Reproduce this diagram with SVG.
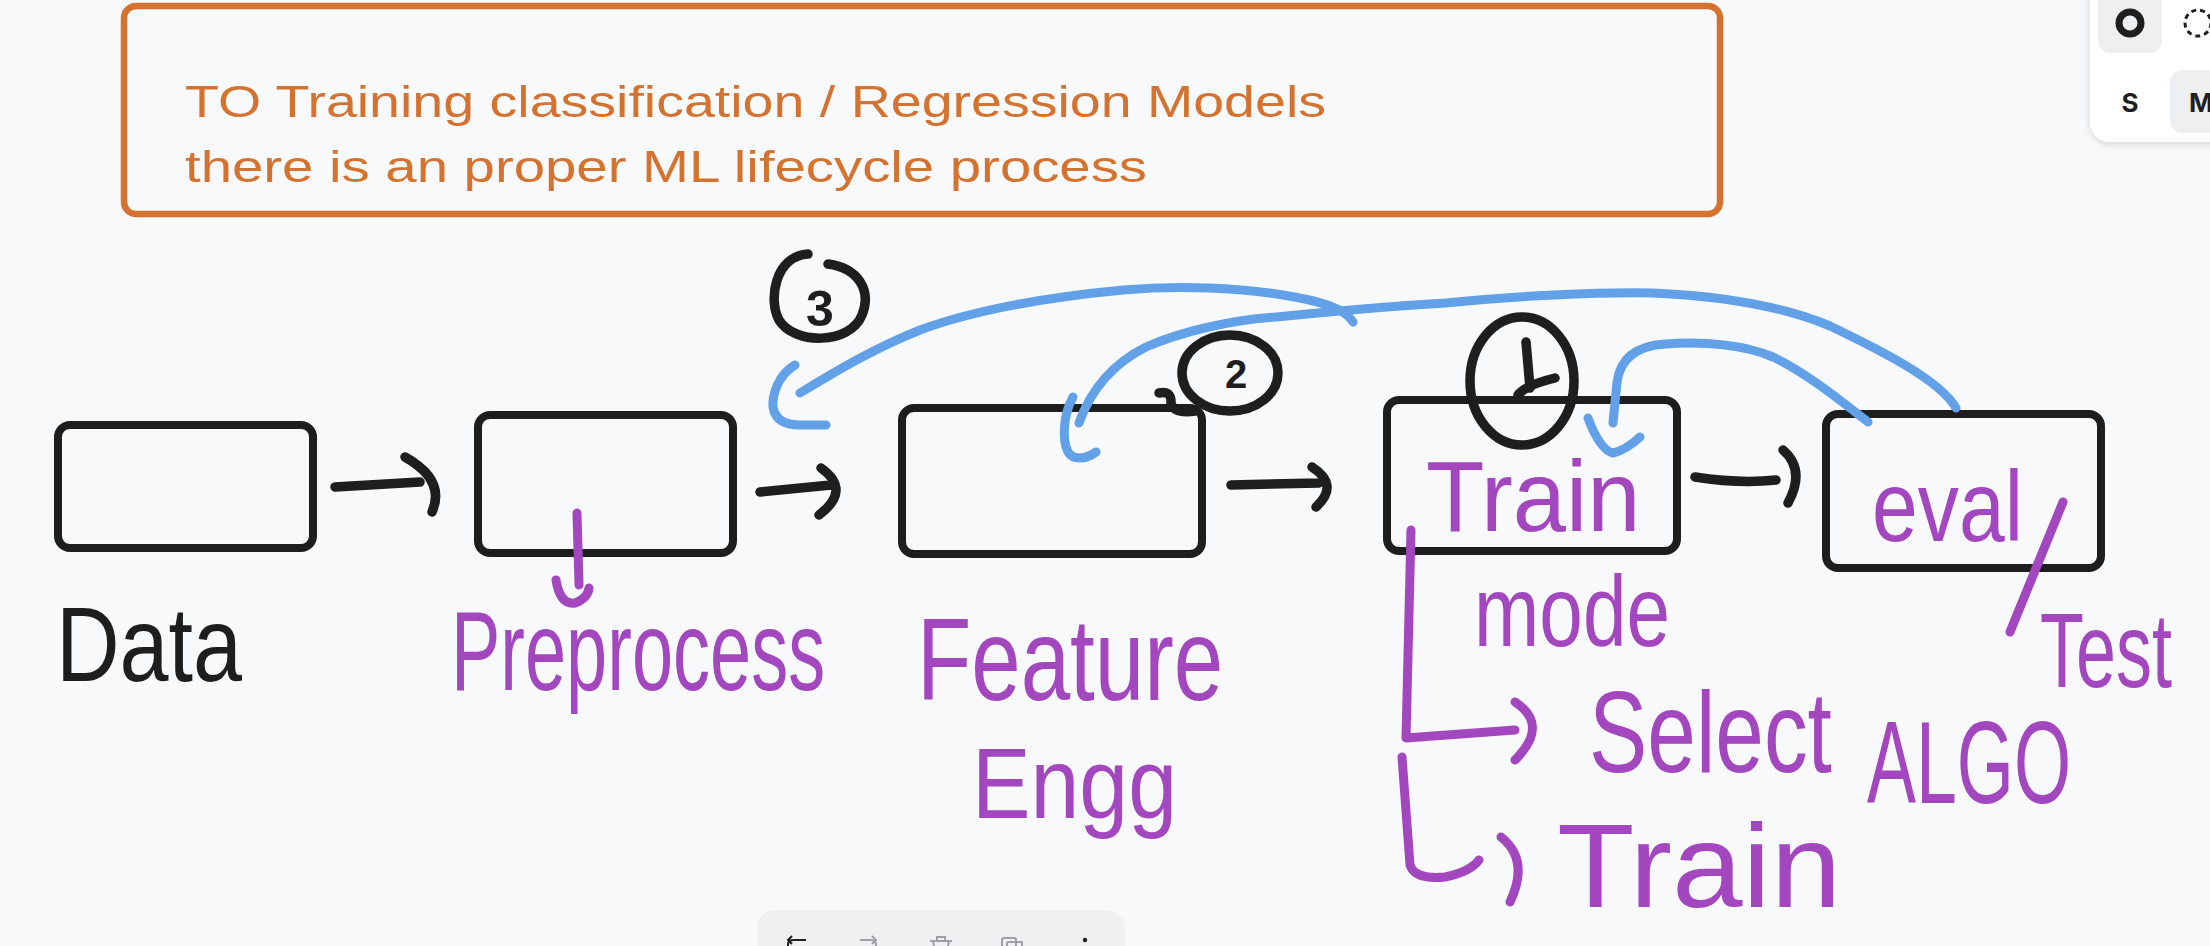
<svg xmlns="http://www.w3.org/2000/svg" width="2210" height="946" viewBox="0 0 2210 946">
<defs>
<style>
.bg{fill:#f8f9fb}
.box{fill:none;stroke:#1e1e1e;stroke-width:8;stroke-linejoin:round}
.blk{fill:none;stroke:#1e1e1e;stroke-width:9.5;stroke-linecap:round;stroke-linejoin:round}
.blue{fill:none;stroke:#62a0e8;stroke-width:9;stroke-linecap:round;stroke-linejoin:round}
.pur{fill:none;stroke:#a347bf;stroke-width:9;stroke-linecap:round;stroke-linejoin:round}
.ptxt{fill:#a347bf;font-family:"Liberation Sans",Arial,sans-serif}
.btxt{fill:#1e1e1e;font-family:"Liberation Sans",Arial,sans-serif}
.otxt{fill:#d4722f;font-family:"Liberation Sans",Arial,sans-serif;font-size:45px}
.ui{font-family:Inter,"Liberation Sans",sans-serif;font-weight:700;fill:#1e1e1e;font-size:26px}
</style>
<filter id="sh" x="-20%" y="-20%" width="140%" height="140%">
<feDropShadow dx="0" dy="2" stdDeviation="4" flood-color="#000" flood-opacity="0.15"/>
</filter>
</defs>
<rect class="bg" x="0" y="0" width="2210" height="946"/>

<g id="title">
<rect x="124" y="6" width="1596" height="208" rx="12" fill="none" stroke="#d4722f" stroke-width="6.5"/>
<text class="otxt" x="185" y="117" textLength="1141" lengthAdjust="spacingAndGlyphs">TO Training classification / Regression Models</text>
<text class="otxt" x="185" y="182" textLength="962" lengthAdjust="spacingAndGlyphs">there is an proper ML lifecycle process</text>
</g>

<g id="node-data">
<rect class="box" x="58" y="425" width="255" height="123" rx="12"/>
<text class="btxt" transform="translate(56,681) scale(0.839,1)" font-size="105">Data</text>
</g>

<g id="node-preprocess">
<rect class="box" x="478" y="415" width="255" height="138" rx="12"/>
<text class="ptxt" transform="translate(451,690) scale(0.649,1)" font-size="114">Preprocess</text>
</g>

<g id="node-feature">
<rect class="box" x="902" y="408" width="300" height="146" rx="12"/>
<text class="ptxt" transform="translate(917,700) scale(0.766,1)" font-size="116">Feature</text>
<text class="ptxt" transform="translate(972,818) scale(0.878,1)" font-size="100">Engg</text>
</g>

<g id="node-train">
<rect class="box" x="1387" y="400" width="290" height="151" rx="12"/>
<text class="ptxt" transform="translate(1426,531) scale(0.957,1)" font-size="100">Train</text>
<text class="ptxt" transform="translate(1474,646) scale(0.784,1)" font-size="100">mode</text>
<text class="ptxt" transform="translate(1589,772) scale(0.76,1)" font-size="115">Select</text>
<text class="ptxt" transform="translate(1867,803) scale(0.633,1)" font-size="116">ALGO</text>
<text class="ptxt" transform="translate(1557,907) scale(1.075,1)" font-size="118">Train</text>
</g>

<g id="node-eval">
<rect class="box" x="1826" y="414" width="275" height="154" rx="12"/>
<text class="ptxt" transform="translate(1872,541) scale(0.823,1)" font-size="100">eval</text>
<text class="ptxt" transform="translate(2040,687) scale(0.679,1)" font-size="106">Test</text>
</g>

<g id="steps">
<g id="step-3">
<path class="blk" d="M808,254 C775,256 768,300 779,320 C794,345 850,345 862,315 C872,290 858,268 828,264"/>
<text class="btxt" x="820" y="326" font-size="50" font-weight="700" text-anchor="middle">3</text>
</g>
<g id="step-2">
<ellipse class="blk" cx="1230" cy="373" rx="48" ry="38"/>
<text class="btxt" x="1236" y="388" font-size="40" font-weight="700" text-anchor="middle">2</text>
<path class="blk" d="M1159,393 Q1172,390 1171,404 Q1175,414 1195,411"/>
</g>
<g id="step-1">
<ellipse class="blk" cx="1522" cy="381" rx="52" ry="64"/>
<path class="blk" d="M1526,342 L1530,388 M1518,395 Q1526,385 1555,378"/>
</g>
</g>

<g id="connectors">
<path class="blk" d="M335,487 L420,482 M405,457 Q446,480 432,512"/>
<path class="blk" d="M760,492 L831,485 M821,468 Q852,490 819,515"/>
<path class="blk" d="M1231,485 L1319,483 M1312,467 Q1340,485 1316,507"/>
<path class="blk" d="M1695,477 Q1740,484 1776,480 M1783,450 Q1806,470 1788,503"/>

<path class="blue" d="M800,393 C830,375 870,350 920,330 C980,308 1060,296 1123,290 C1180,285 1240,288 1283,295 C1320,301 1345,308 1353,322"/>
<path class="blue" d="M1079,423 C1090,392 1110,365 1146,347 C1180,332 1230,320 1276,317 C1320,313 1360,308 1446,303 C1510,296 1600,292 1653,293 C1720,296 1780,305 1830,326 C1880,350 1940,380 1956,408"/>
<path class="blue" d="M1613,423 L1617,382 C1620,360 1635,346 1665,344 C1705,341 1745,345 1773,357 C1805,372 1840,400 1868,422"/>
<path class="blue" d="M795,365 C778,375 772,395 773,407 C775,420 785,425 800,425 L826,425"/>
<path class="blue" d="M1073,397 C1063,415 1062,440 1068,452 C1073,460 1085,460 1096,452"/>
<path class="blue" d="M1588,418 Q1600,450 1613,453 Q1626,450 1640,437"/>

<path class="pur" d="M577,513 L579,585 M556,580 Q560,605 575,603 Q588,598 589,588"/>
<path class="pur" d="M2063,502 L2010,632"/>
<path class="pur" d="M1411,530 L1406,738 L1515,730 M1515,702 Q1550,725 1515,760"/>
<path class="pur" d="M1402,757 L1410,865 Q1415,880 1445,877 Q1470,872 1479,860 M1501,837 Q1530,860 1510,902"/>
</g>

<g id="ui-panel">
<rect x="2090" y="-30" width="150" height="172" rx="20" fill="#ffffff" filter="url(#sh)"/>
<rect x="2098" y="-10" width="64" height="63" rx="12" fill="#eeeff1"/>
<circle cx="2130" cy="23" r="11" fill="none" stroke="#1e1e1e" stroke-width="7"/>
<circle cx="2198" cy="23" r="13" fill="none" stroke="#1e1e1e" stroke-width="3" stroke-dasharray="5 4"/>
<text class="ui" x="2130" y="112" text-anchor="middle">S</text>
<rect x="2170" y="70" width="60" height="63" rx="12" fill="#eeeff1"/>
<text class="ui" x="2189" y="112">M</text>
</g>

<g id="ui-toolbar">
<rect x="757" y="910" width="368" height="60" rx="18" fill="#eff0f2"/>
<path d="M788,946 L788,944 Q788,940 794,940 L806,940 M792,936 L788,940 L792,944" fill="none" stroke="#1e1e1e" stroke-width="2"/>
<path d="M876,946 L876,944 Q876,940 870,940 L860,940 M872,936 L876,940 L872,944" fill="none" stroke="#a0a0a4" stroke-width="2"/>
<path d="M930,941 L952,941 M937,941 L937,937 L945,937 L945,941 M933,941 L934,946 M949,941 L948,946" fill="none" stroke="#a0a0a4" stroke-width="2"/>
<rect x="1002" y="938" width="14" height="12" rx="2" fill="none" stroke="#a0a0a4" stroke-width="2"/>
<path d="M1007,946 L1007,943 Q1007,942 1009,942 L1022,942 L1022,946" fill="none" stroke="#a0a0a4" stroke-width="2"/>
<circle cx="1085" cy="940" r="2.2" fill="#1e1e1e"/>
</g>
</svg>
